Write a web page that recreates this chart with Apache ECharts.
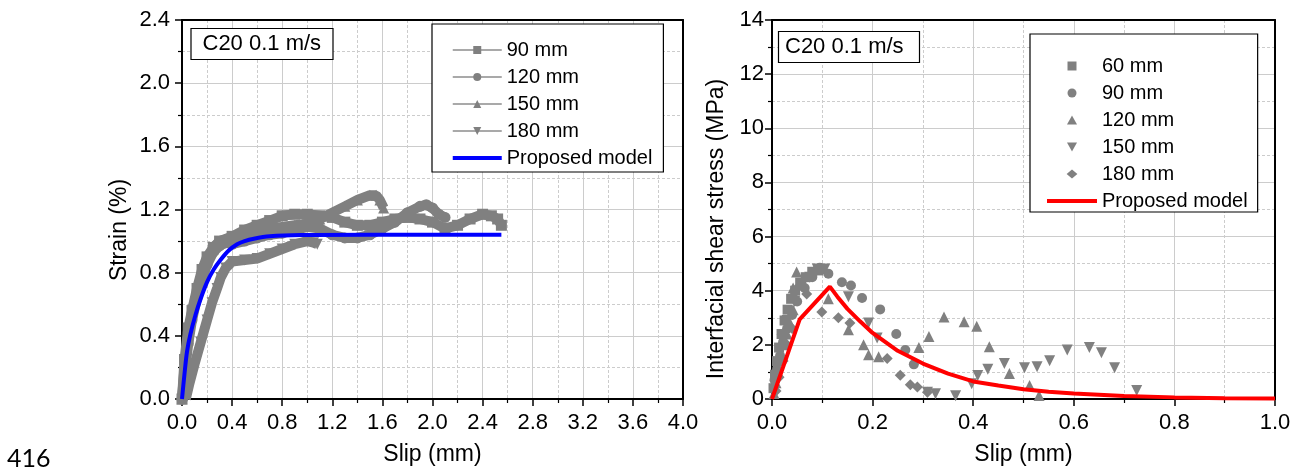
<!DOCTYPE html>
<html>
<head>
<meta charset="utf-8">
<script src="https://cdn.jsdelivr.net/npm/echarts@6/dist/echarts.min.js"></script>
<style>
html,body{margin:0;padding:0;background:#fff;}
#c{width:1299px;height:471px;}
</style>
</head>
<body>
<div id="c"></div>
<script>
// ---------- Left panel: strain vs slip (x: slip mm, y: strain %) ----------
const left90 = [[0,0],[0.02,0.25],[0.05,0.45],[0.08,0.56],[0.12,0.7],[0.16,0.82],[0.2,0.9],[0.25,0.96],[0.3,1.0],[0.4,1.03],[0.5,1.07],[0.6,1.1],[0.7,1.13],[0.8,1.16],[0.9,1.17],[1.0,1.17],[1.1,1.16],[1.2,1.15],[1.3,1.12],[1.4,1.1],[1.5,1.1],[1.6,1.12],[1.7,1.14],[1.8,1.15],[1.9,1.14],[2.0,1.12],[2.1,1.08],[2.2,1.1],[2.3,1.14],[2.4,1.17],[2.47,1.16],[2.52,1.14],[2.55,1.1]];
const left120 = [[0,0],[0.02,0.15],[0.05,0.35],[0.08,0.5],[0.12,0.64],[0.16,0.76],[0.2,0.85],[0.25,0.93],[0.3,0.97],[0.35,0.99],[0.4,0.98],[0.5,1.0],[0.6,1.02],[0.7,1.04],[0.8,1.05],[0.9,1.07],[1.0,1.09],[1.1,1.08],[1.2,1.04],[1.3,1.02],[1.4,1.02],[1.5,1.04],[1.6,1.08],[1.7,1.12],[1.8,1.18],[1.9,1.22],[1.95,1.23],[2.0,1.21],[2.05,1.17],[2.1,1.15]];
const left150 = [[0,0],[0.02,0.2],[0.05,0.4],[0.08,0.55],[0.12,0.68],[0.16,0.8],[0.2,0.88],[0.25,0.95],[0.3,1.0],[0.4,1.02],[0.5,1.04],[0.6,1.06],[0.7,1.08],[0.8,1.09],[0.9,1.1],[1.0,1.11],[1.1,1.14],[1.2,1.18],[1.3,1.22],[1.4,1.26],[1.5,1.29],[1.55,1.29],[1.58,1.26],[1.61,1.21]];
const left180 = [[0.03,0],[0.06,0.1],[0.1,0.22],[0.15,0.36],[0.2,0.5],[0.24,0.61],[0.28,0.7],[0.31,0.77],[0.35,0.83],[0.4,0.87],[0.5,0.88],[0.6,0.89],[0.7,0.92],[0.8,0.95],[0.9,0.98],[1.0,1.0],[1.05,0.99],[1.08,0.98]];
const leftModel = [[0,0],[0.02,0.16],[0.04,0.3],[0.067,0.41],[0.107,0.53],[0.147,0.63],[0.2,0.74],[0.253,0.82],[0.307,0.88],[0.373,0.94],[0.44,0.98],[0.5,1.0],[0.573,1.015],[0.7,1.03],[0.95,1.038],[1.5,1.04],[2.0,1.04],[2.55,1.04]];

// ---------- Right panel: interfacial shear stress vs slip ----------
const right60 = [[0.003,0.4],[0.006,0.9],[0.01,1.4],[0.014,1.9],[0.019,2.4],[0.025,2.9],[0.031,3.3],[0.038,3.7],[0.046,4.0],[0.056,4.3],[0.067,4.5],[0.08,4.7],[0.092,4.75],[0.1,4.8]];
const right90 = [[0.005,0.7],[0.01,1.1],[0.016,1.6],[0.022,2.1],[0.03,2.6],[0.04,3.1],[0.05,3.6],[0.065,4.1],[0.08,4.5],[0.095,4.85],[0.112,4.63],[0.139,4.31],[0.157,4.19],[0.179,3.73],[0.215,3.31],[0.247,2.4],[0.265,1.81],[0.282,1.28]];
const right120 = [[0.004,0.2],[0.008,0.6],[0.012,1.0],[0.018,1.5],[0.024,2.0],[0.03,2.4],[0.036,2.8],[0.042,3.3],[0.046,3.8],[0.042,4.1],[0.049,4.69],[0.112,3.7],[0.152,2.56],[0.182,2.0],[0.192,1.63],[0.212,1.56],[0.292,1.9],[0.312,2.31],[0.342,3.03],[0.382,2.85],[0.407,2.69],[0.432,1.93],[0.472,0.94],[0.512,0.5],[0.531,0.13]];
const right150 = [[0.006,0.5],[0.012,1.3],[0.02,2.2],[0.03,2.9],[0.045,3.6],[0.06,4.2],[0.075,4.5],[0.09,4.8],[0.105,4.8],[0.152,3.78],[0.192,2.81],[0.209,2.25],[0.309,0.25],[0.325,0.19],[0.365,0.12],[0.397,0.56],[0.409,0.87],[0.429,1.1],[0.462,1.31],[0.502,1.15],[0.527,1.19],[0.552,1.41],[0.587,1.81],[0.631,1.9],[0.655,1.71],[0.681,1.15],[0.725,0.31]];
const right180 = [[0.008,0.3],[0.014,0.8],[0.022,1.4],[0.03,2.0],[0.04,2.6],[0.052,4.13],[0.069,3.88],[0.099,3.21],[0.132,3.0],[0.155,2.81],[0.229,1.5],[0.255,0.88],[0.275,0.53],[0.289,0.44],[0.309,0.25]];
const rightModel = [[0,0],[0.055,2.94],[0.115,4.15],[0.13,3.78],[0.15,3.33],[0.175,2.87],[0.2,2.44],[0.25,1.78],[0.3,1.31],[0.35,0.94],[0.4,0.65],[0.45,0.5],[0.5,0.36],[0.55,0.27],[0.6,0.2],[0.7,0.11],[0.8,0.06],[0.9,0.03],[1.0,0.02]];

const leftNames = ['90 mm','120 mm','150 mm','180 mm','Proposed model'];
const rightNames = ['60 mm ','90 mm ','120 mm ','150 mm ','180 mm ','Proposed model '];

const GRAY = '#808080';
const FONT = 'Liberation Sans, Arial, sans-serif';
const SYM = {
  square:'path://M0,0h10v10h-10z',
  circle:'circle',
  up:'path://M5,0L10,9L0,9Z',
  down:'path://M0,0L10,0L5,9Z',
  diamond:'path://M6,0L12,5L6,10L0,5Z',
  bar:'path://M0,0h50v4h-50z'
};

function valueX(grid, max, interval) {
  return {
    type:'value', gridIndex:grid, min:0, max:max, interval:interval,
    name:'Slip (mm)', nameLocation:'middle', nameGap:44,
    nameTextStyle:{fontFamily:FONT,fontSize:23,color:'#000'},
    axisLine:{onZero:false,lineStyle:{color:'#000',width:2}},
    axisTick:{show:true,inside:false,length:7,lineStyle:{color:'#000',width:1.5}},
    minorTick:{show:true,splitNumber:2,length:4,lineStyle:{color:'#000',width:1.2}},
    axisLabel:{fontFamily:FONT,fontSize:22,color:'#000',margin:13,formatter:v=>v.toFixed(1)},
    splitLine:{show:true,lineStyle:{color:'#cccccc',width:1}},
    minorSplitLine:{show:true,lineStyle:{color:'#cccccc',width:1,type:[3,2]}}
  };
}
function valueY(grid, max, interval, decimals, margin) {
  return {
    type:'value', gridIndex:grid, min:0, max:max, interval:interval,
    axisLine:{onZero:false,lineStyle:{color:'#000',width:2}},
    axisTick:{show:true,inside:false,length:7,lineStyle:{color:'#000',width:1.5}},
    minorTick:{show:true,splitNumber:2,length:4,lineStyle:{color:'#000',width:1.2}},
    axisLabel:{fontFamily:FONT,fontSize:22,color:'#000',margin:margin,formatter:v=>v.toFixed(decimals)},
    splitLine:{show:true,lineStyle:{color:'#cccccc',width:1}},
    minorSplitLine:{show:true,lineStyle:{color:'#cccccc',width:1,type:[3,2]}}
  };
}
function frameAxis(grid, max, pos) {
  return {
    type:'value', gridIndex:grid, min:0, max:max, position:pos,
    axisLine:{show:true,onZero:false,lineStyle:{color:'#000',width:2}},
    axisTick:{show:false}, axisLabel:{show:false}, splitLine:{show:false}
  };
}

function grayLine(name, data, symbol) {
  return {
    name:name, type:'line', xAxisIndex:0, yAxisIndex:0, data:data,
    symbol:symbol, symbolSize:11, showSymbol:true,
    itemStyle:{color:GRAY}, lineStyle:{color:GRAY,width:10},
    z:2
  };
}
function grayScatter(name, data, symbol, size) {
  return {
    name:name, type:'scatter', xAxisIndex:2, yAxisIndex:2, data:data,
    symbol:symbol, symbolSize:size, itemStyle:{color:GRAY,opacity:1},
    z:2
  };
}

const chart = echarts.init(document.getElementById('c'), null, {renderer:'canvas'});
chart.setOption({
  backgroundColor:'#fff',
  animation:false,
  grid:[
    {left:182, top:20, width:501, height:380},
    {left:772, top:20, width:503, height:380}
  ],
  xAxis:[
    valueX(0,4,0.4),
    frameAxis(0,4,'top'),
    valueX(1,1,0.2),
    frameAxis(1,1,'top')
  ],
  yAxis:[
    valueY(0,2.4,0.4,1,12),
    frameAxis(0,2.4,'right'),
    valueY(1,14,2,0,8),
    frameAxis(1,14,'right')
  ],
  title:[
    {text:'C20 0.1 m/s', left:190.5, top:28, padding:[5,12,5,12], borderColor:'#000', borderWidth:1.2,
     backgroundColor:'#fff', textStyle:{fontFamily:FONT,fontSize:22,fontWeight:'normal',color:'#000',lineHeight:22}},
    {text:'C20 0.1 m/s', left:778, top:31, padding:[5,16,5,7], borderColor:'#000', borderWidth:1.2,
     backgroundColor:'#fff', textStyle:{fontFamily:FONT,fontSize:22,fontWeight:'normal',color:'#000',lineHeight:22}}
  ],
  legend:[
    {data:[
       {name:leftNames[0]},{name:leftNames[1]},{name:leftNames[2]},{name:leftNames[3]},
       {name:leftNames[4], icon:SYM.bar}
     ],
     orient:'vertical', left:432, top:24,
     padding:[16,11,4,20], itemGap:7, itemWidth:49, itemHeight:10,
     borderColor:'#000', borderWidth:1.2, backgroundColor:'#fff',
     textStyle:{fontFamily:FONT,fontSize:20,color:'#000',lineHeight:20},
     lineStyle:{width:1.5,color:'#8c8c8c'}, selectedMode:false},
    {data:[
       {name:rightNames[0]},{name:rightNames[1]},{name:rightNames[2]},{name:rightNames[3]},{name:rightNames[4]},
       {name:rightNames[5], icon:SYM.bar}
     ],
     orient:'vertical', left:1030, top:34,
     padding:[22,10,1,17], itemGap:7, itemWidth:50, itemHeight:9,
     borderColor:'#000', borderWidth:1.2, backgroundColor:'#fff',
     textStyle:{fontFamily:FONT,fontSize:20,color:'#000',lineHeight:20},
     formatter:n=>n.trim(), selectedMode:false}
  ],
  graphic:[
    {type:'text', x:120, y:230, rotation:Math.PI/2,
     style:{text:'Strain (%)', fontFamily:FONT, fontSize:23, fill:'#000', align:'center', verticalAlign:'middle'}},
    {type:'text', x:717, y:229, rotation:Math.PI/2,
     style:{text:'Interfacial shear stress (MPa)', fontFamily:FONT, fontSize:23, fill:'#000', align:'center', verticalAlign:'middle'}},
    {type:'text', x:7, y:459,
     style:{text:'416', fontFamily:'Lato, Open Sans, sans-serif', fontSize:25, fill:'#000', align:'left', verticalAlign:'middle'}}
  ],
  series:[
    grayLine(leftNames[0], left90, SYM.square),
    grayLine(leftNames[1], left120, SYM.circle),
    grayLine(leftNames[2], left150, SYM.up),
    grayLine(leftNames[3], left180, SYM.down),
    {name:leftNames[4], type:'line', xAxisIndex:0, yAxisIndex:0, data:leftModel,
     symbol:'none', smooth:0.3, lineStyle:{color:'#0000ff',width:4}, itemStyle:{color:'#0000ff'}, z:5},
    grayScatter(rightNames[0], right60, SYM.square, 10),
    grayScatter(rightNames[1], right90, SYM.circle, 10),
    grayScatter(rightNames[2], right120, SYM.up, 11),
    grayScatter(rightNames[3], right150, SYM.down, 11),
    grayScatter(rightNames[4], right180, SYM.diamond, 11),
    {name:rightNames[5], type:'line', xAxisIndex:2, yAxisIndex:2, data:rightModel,
     symbol:'none', lineStyle:{color:'#ff0000',width:4}, itemStyle:{color:'#ff0000'}, z:5}
  ]
});
</script>
</body>
</html>
